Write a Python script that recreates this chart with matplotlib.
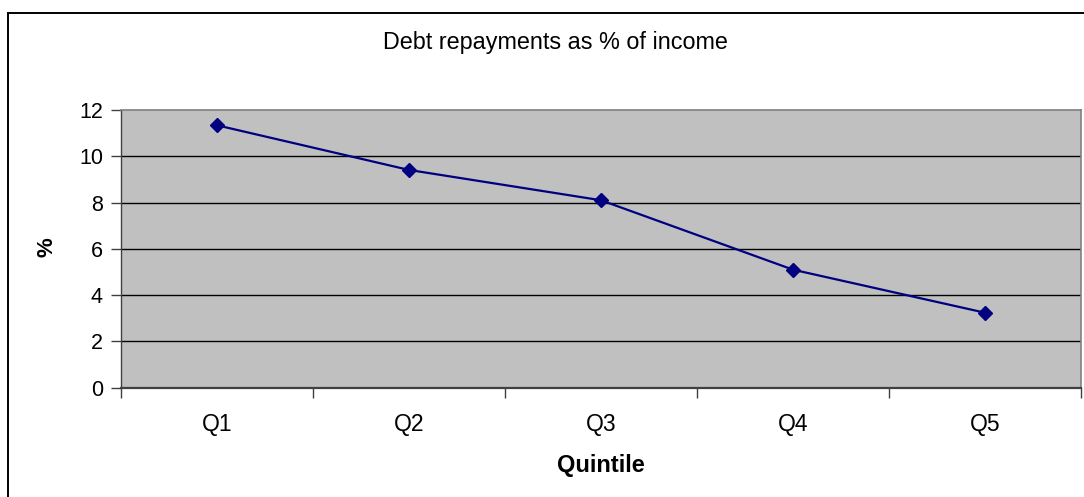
import matplotlib
matplotlib.use("Agg")
import matplotlib.pyplot as plt
from matplotlib.patches import Rectangle
from matplotlib.ticker import FixedLocator, NullFormatter

categories = ["Q1", "Q2", "Q3", "Q4", "Q5"]
values = [11.34, 9.41, 8.10, 5.10, 3.24]
yticks = [0, 2, 4, 6, 8, 10, 12]

plt.rcParams['font.family'] = ['Liberation Sans', 'DejaVu Sans']

W, H = 1084, 497
fig = plt.figure(figsize=(W / 100, H / 100), dpi=100)
ax = fig.add_axes([121 / W, 1 - 387.7 / H, (1081 - 121) / W, (387.7 - 110) / H])

ax.set_facecolor("#C0C0C0")
x = list(range(1, len(categories) + 1))
ax.plot(x, values, color="#000080", lw=1.6, marker="D", markersize=7,
        markerfacecolor="#000080", markeredgecolor="#000080", zorder=3)

ax.set_xlim(0.5, len(categories) + 0.5)
ax.set_ylim(0, 12)
ax.set_yticks(yticks)
ax.set_yticklabels([str(v) for v in yticks], fontsize=15.5)
for v in yticks[1:-1]:
    ax.axhline(v, color="black", lw=1.0, zorder=1)

ax.set_xticks(x)
ax.set_xticklabels(categories, fontsize=16.5)
ax.tick_params(axis="x", which="major", length=0, pad=18)
ax.xaxis.set_minor_locator(FixedLocator([i + 0.5 for i in range(0, len(categories) + 1)]))
ax.xaxis.set_minor_formatter(NullFormatter())
ax.tick_params(axis="x", which="minor", length=7, width=1, color="#404040", direction="out")
ax.tick_params(axis="y", length=7, width=1, color="#404040", direction="out", pad=6)

for s in ["top", "right"]:
    ax.spines[s].set_color("#808080")
    ax.spines[s].set_linewidth(1.2)
ax.spines["left"].set_color("#404040")
ax.spines["left"].set_linewidth(1.0)
ax.spines["bottom"].set_color("#404040")
ax.spines["bottom"].set_linewidth(1.6)

ax.set_xlabel("Quintile", fontsize=17, fontweight="bold", labelpad=13)
fig.text(47 / W, 1 - 247 / H, "%", fontsize=16, fontweight="bold",
         rotation=90, ha="center", va="center")
fig.text(555 / W, 1 - 42 / H, "Debt repayments as % of income", fontsize=16.8,
         ha="center", va="center")

frame = Rectangle((8 / W, -0.2), 1.5, 1 - 13 / H + 0.2, transform=fig.transFigure,
                  fill=False, edgecolor="black", lw=1.4, clip_on=False)
fig.patches.append(frame)

fig.savefig("out.png", dpi=100, facecolor="white")
